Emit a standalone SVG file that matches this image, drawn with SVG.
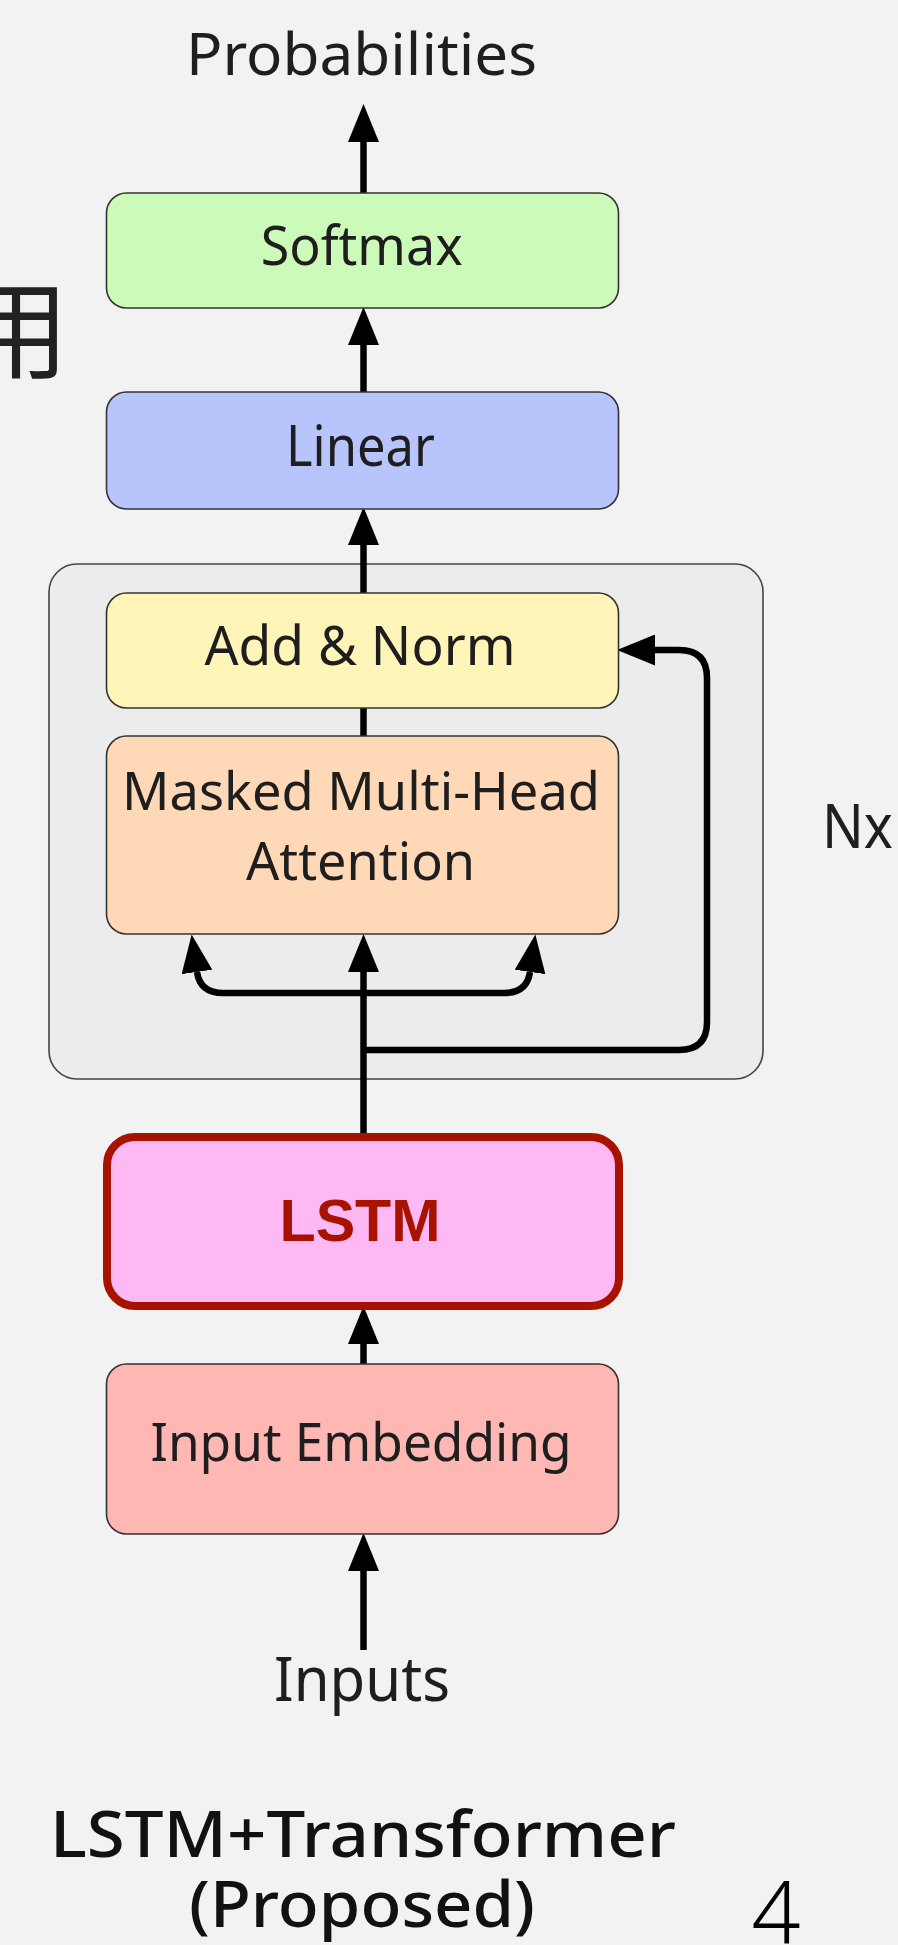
<svg xmlns="http://www.w3.org/2000/svg" width="898" height="1945" viewBox="0 0 898 1945">
<style>
.lbl{font-family:"Noto Sans","Liberation Sans",sans-serif;fill:#1e1e1e;text-anchor:middle}
.box{stroke:#333;stroke-width:1.6}
.wire{fill:none;stroke:#000;stroke-width:6.5}
.title{font-family:"Noto Sans","Liberation Sans",sans-serif;font-weight:500;fill:#111;text-anchor:middle}
</style>
<defs>
<marker id="ah" viewBox="0 0 38 31" refX="0" refY="15.5" markerWidth="38" markerHeight="31" markerUnits="userSpaceOnUse" orient="auto">
<path d="M0,0 L38,15.5 L0,31 z" fill="#000"/>
</marker>
</defs>
<rect width="898" height="1945" fill="#f2f2f2"/>
<text x="-38" y="370" font-family="'Noto Sans CJK JP','Noto Sans CJK SC',sans-serif" font-size="107" fill="#222">用</text>
<text x="776" y="1943" font-family="'Noto Sans','Liberation Sans',sans-serif" font-size="86" font-weight="300" fill="#000" text-anchor="middle">4</text>

<g id="nx-block">
<rect x="49" y="564" width="714" height="515" rx="28" fill="#ececec" stroke="#444" stroke-width="1.6"/>
<text class="lbl" x="857.5" y="848" font-size="62" textLength="71" lengthAdjust="spacingAndGlyphs">Nx</text>
</g>

<g id="connectors">
<path class="wire" d="M363.5 193 V142" marker-end="url(#ah)"/>
<path class="wire" d="M363.5 392 V345" marker-end="url(#ah)"/>
<path class="wire" d="M363.5 593 V545" marker-end="url(#ah)"/>
<path class="wire" d="M363.5 736 V708"/>
<path class="wire" d="M363.5 1137 V972" marker-end="url(#ah)"/>
<path class="wire" d="M363.5 993 H223 Q200 993 197 972" marker-end="url(#ah)"/>
<path class="wire" d="M363.5 993 H504 Q527 993 530 972" marker-end="url(#ah)"/>
<path class="wire" d="M363.5 1050 H679 Q707 1050 707 1022 V678 Q707 650 679 650 H655" marker-end="url(#ah)"/>
<path class="wire" d="M363.5 1364 V1344" marker-end="url(#ah)"/>
<path class="wire" d="M363.5 1650 V1571" marker-end="url(#ah)"/>
</g>

<g id="probabilities">
<text class="lbl" x="361.5" y="75" font-size="58" textLength="351" lengthAdjust="spacingAndGlyphs">Probabilities</text>
</g>
<g id="softmax">
<rect class="box" x="106.5" y="193" width="512" height="115" rx="20" fill="#ccfab8"/>
<text class="lbl" x="361.7" y="265" font-size="55" textLength="202" lengthAdjust="spacingAndGlyphs">Softmax</text>
</g>
<g id="linear">
<rect class="box" x="106.5" y="392" width="512" height="117" rx="20" fill="#b8c5fc"/>
<text class="lbl" x="360.5" y="466" font-size="56" textLength="149" lengthAdjust="spacingAndGlyphs">Linear</text>
</g>
<g id="add-norm">
<rect class="box" x="106.5" y="593" width="512" height="115" rx="20" fill="#fff5b8"/>
<text class="lbl" x="360" y="665" font-size="54" textLength="311" lengthAdjust="spacingAndGlyphs">Add &amp; Norm</text>
</g>
<g id="masked-mha">
<rect class="box" x="106.5" y="736" width="512" height="198" rx="20" fill="#ffd8b8"/>
<text class="lbl" x="361" y="809.5" font-size="53" textLength="478" lengthAdjust="spacingAndGlyphs">Masked Multi-Head</text>
<text class="lbl" x="360.5" y="880" font-size="53" textLength="229" lengthAdjust="spacingAndGlyphs">Attention</text>
</g>
<g id="lstm">
<rect x="107" y="1137" width="512" height="169" rx="28" fill="#feb8f4" stroke="#a81300" stroke-width="8"/>
<text x="360" y="1241" font-family="'Liberation Sans','Noto Sans',sans-serif" font-weight="bold" font-size="60" fill="#a81300" text-anchor="middle" textLength="161" lengthAdjust="spacingAndGlyphs">LSTM</text>
</g>
<g id="input-embedding">
<rect class="box" x="106.5" y="1364" width="512" height="170" rx="20" fill="#ffb7b4"/>
<text class="lbl" x="361" y="1461" font-size="53" textLength="421" lengthAdjust="spacingAndGlyphs">Input Embedding</text>
</g>
<g id="inputs">
<text class="lbl" x="362" y="1701" font-size="62" textLength="176" lengthAdjust="spacingAndGlyphs">Inputs</text>
</g>
<g id="caption">
<text class="title" x="363" y="1857" font-size="64" textLength="626" lengthAdjust="spacingAndGlyphs">LSTM+Transformer</text>
<text class="title" x="362" y="1927" font-size="64" textLength="346" lengthAdjust="spacingAndGlyphs">(Proposed)</text>
</g>
</svg>
